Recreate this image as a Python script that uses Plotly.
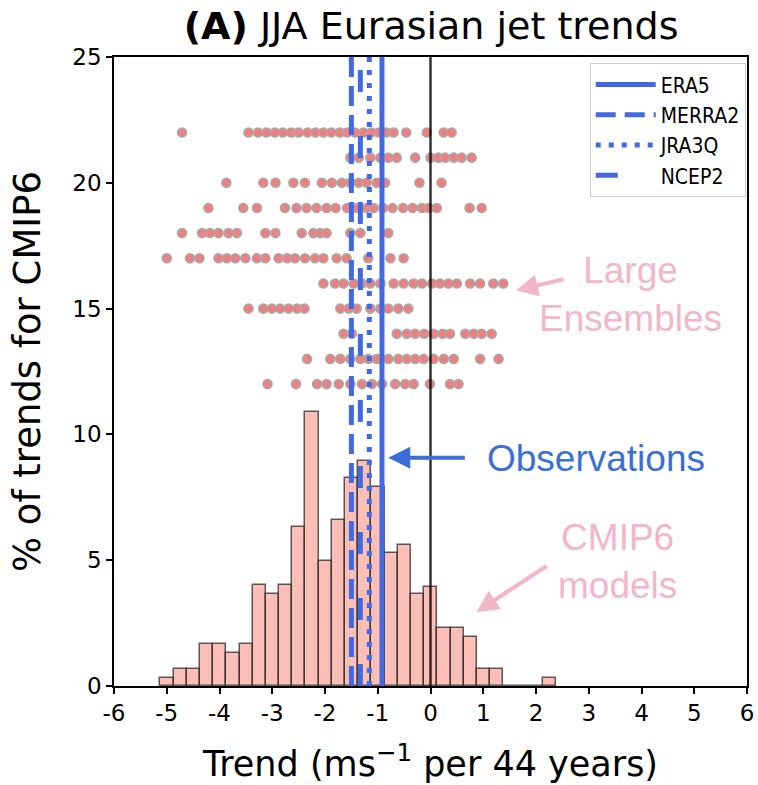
import numpy as np
import plotly.graph_objects as go

# ---------------- data ----------------
# CMIP6 histogram (percent of trends per bin), 30 bins from -5.12 to 2.38
bin_lo, bin_hi = -5.12, 2.38
hist_pct = [0.33, 0.66, 0.66, 1.66, 1.66, 1.33, 1.66, 4.0, 3.65, 4.0,
            6.3, 10.9, 4.95, 6.6, 8.25, 8.95, 7.9, 5.3, 5.6, 3.65,
            3.95, 2.3, 2.3, 1.95, 0.66, 0.66, 0.0, 0.0, 0.0, 0.33]

# Large-ensemble member trends, one row per ensemble (row value = y position)
le_rows = [22, 21, 20, 19, 18, 17, 16, 15, 14, 13, 12]
le_trends = [
    [-4.71, -3.45, -3.27, -3.11, -2.95, -2.80, -2.64, -2.50, -2.33, -2.18, -2.03, -1.88,
     -1.72, -1.58, -1.43, -1.27, -1.12, -0.98, -0.84, -0.70, -0.46, -0.07, 0.25, 0.40],
    [-1.52, -1.36, -1.14, -0.95, -0.80, -0.64, -0.29, 0.00, 0.15, 0.28, 0.44, 0.59, 0.78],
    [-3.87, -3.17, -2.94, -2.60, -2.38, -2.06, -1.87, -1.68, -1.52, -1.36, -1.21, -1.02,
     -0.86, -0.21, 0.21],
    [-4.21, -3.55, -3.29, -2.76, -2.54, -2.35, -2.16, -1.97, -1.80, -1.58, -1.40, -1.21,
     -1.08, -0.90, -0.72, -0.52, -0.34, -0.16, -0.03, 0.12, 0.74, 0.97],
    [-4.71, -4.33, -4.18, -4.02, -3.83, -3.67, -3.13, -2.94, -2.44, -2.22, -2.09, -1.97,
     -1.52, -1.33, -0.80],
    [-5.00, -4.56, -4.38, -4.02, -3.86, -3.70, -3.51, -3.29, -3.13, -2.88, -2.72, -2.57,
     -2.38, -2.19, -2.03, -1.78, -1.59, -1.18, -0.76, -0.51],
    [-2.03, -1.81, -1.65, -1.46, -1.30, -1.14, -0.95, -0.70, -0.51, -0.32, -0.16, 0.03,
     0.18, 0.34, 0.50, 0.75, 0.94, 1.19, 1.38],
    [-3.45, -3.17, -3.01, -2.85, -2.69, -2.53, -2.39, -1.71, -1.55, -1.40, -1.14, -0.95,
     -0.80, -0.61, -0.42],
    [-1.65, -1.49, -0.64, -0.45, -0.29, -0.12, 0.06, 0.23, 0.37, 0.66, 0.82, 0.97, 1.16],
    [-2.34, -1.90, -1.71, -1.52, -1.33, -1.18, -1.02, -0.80, -0.61, -0.45, -0.29, -0.13,
     0.06, 0.25, 0.44, 0.94, 1.29],
    [-3.09, -2.55, -2.15, -1.97, -1.74, -1.52, -1.30, -1.11, -0.92, -0.67, -0.48, -0.32,
     -0.01, 0.37, 0.53],
]

# Observed reanalysis trends
obs_names = ["ERA5", "MERRA2", "JRA3Q", "NCEP2"]
obs_trends = [-0.92, -1.50, -1.16, -1.33]

x_ticks = [-6, -5, -4, -3, -2, -1, 0, 1, 2, 3, 4, 5, 6]
y_ticks = [0, 5, 10, 15, 20, 25]

# ---------------- styles ----------------
FONT = "DejaVu Sans"
ANNOT_FONT = "Liberation Sans, Arial, sans-serif"
BLUE = "#4169E1"
TEXT_BLUE = "#3A6FD8"
PINK = "#F2B6C6"
obs_dash = ["solid", "20px,9px", "5px,8px", "22px,44px"]

edges = np.linspace(bin_lo, bin_hi, len(hist_pct) + 1)
centers = (edges[:-1] + edges[1:]) / 2
widths = np.diff(edges)

fig = go.Figure()

fig.add_trace(go.Bar(
    x=centers, y=hist_pct, width=widths,
    marker=dict(color="rgba(250,128,114,0.5)",
                line=dict(color="rgba(40,40,40,0.75)", width=1.5)),
    showlegend=False, hoverinfo="skip"))

for row, vals in zip(le_rows, le_trends):
    fig.add_trace(go.Scatter(
        x=vals, y=[row] * len(vals), mode="markers",
        marker=dict(size=9, color="#F08080", line=dict(color="#A8A8A8", width=1.6)),
        showlegend=False, hoverinfo="skip"))

fig.add_trace(go.Scatter(x=[0, 0], y=[0, 25], mode="lines",
                         line=dict(color="rgba(0,0,0,0.8)", width=2.5),
                         showlegend=False, hoverinfo="skip"))

for name, val, dash in zip(obs_names, obs_trends, obs_dash):
    fig.add_trace(go.Scatter(x=[val, val], y=[0, 25], mode="lines", name=name,
                             legendgroup=name,
                             line=dict(color=BLUE, width=5, dash=dash)))

annots = [
    dict(x=3.79, y=15.58, text="Large<br>Ensembles", font=dict(color=PINK, size=37, family=ANNOT_FONT),
         showarrow=False, xref="x", yref="y"),
    dict(x=3.14, y=9.03, text="Observations", font=dict(color=TEXT_BLUE, size=37, family=ANNOT_FONT),
         showarrow=False, xref="x", yref="y"),
    dict(x=3.54, y=4.95, text="CMIP6<br>models", font=dict(color=PINK, size=37, family=ANNOT_FONT),
         showarrow=False, xref="x", yref="y"),
    # arrows
    dict(x=1.62, y=15.72, ax=2.55, ay=16.18, xref="x", yref="y", axref="x", ayref="y",
         text="", showarrow=True, arrowhead=2, arrowsize=1.1, arrowwidth=4, arrowcolor=PINK),
    dict(x=-0.80, y=9.07, ax=0.68, ay=9.07, xref="x", yref="y", axref="x", ayref="y",
         text="", showarrow=True, arrowhead=2, arrowsize=1.1, arrowwidth=4, arrowcolor=TEXT_BLUE),
    dict(x=0.87, y=2.94, ax=2.23, ay=4.81, xref="x", yref="y", axref="x", ayref="y",
         text="", showarrow=True, arrowhead=2, arrowsize=1.1, arrowwidth=4, arrowcolor=PINK),
]

fig.update_layout(
    width=758, height=785,
    margin=dict(l=114, r=11, t=57, b=99),
    paper_bgcolor="white", plot_bgcolor="white",
    font=dict(family=FONT, color="black"),
    title=dict(text="<b>(A)</b> JJA Eurasian jet trends", x=0.5687, xanchor="center",
               y=0.984, yanchor="top", font=dict(size=38, family=FONT)),
    xaxis=dict(range=[-6, 6], tickvals=x_ticks, ticktext=[str(t) for t in x_ticks],
               showline=True, linecolor="black", linewidth=1.5, mirror=True,
               ticks="outside", ticklen=6, tickwidth=1.5, tickcolor="black",
               showgrid=False, zeroline=False, tickfont=dict(size=23), automargin=False,
               title=dict(text="Trend (ms<sup>−1</sup> per 44 years)", font=dict(size=35),
                          standoff=26)),
    yaxis=dict(range=[0, 25], tickvals=y_ticks,
               showline=True, linecolor="black", linewidth=1.5, mirror=True,
               ticks="outside", ticklen=6, tickwidth=1.5, tickcolor="black",
               showgrid=False, zeroline=False, tickfont=dict(size=23), automargin=False,
               title=dict(text="% of trends for CMIP6", font=dict(size=37), standoff=20)),
    legend=dict(x=0.998, y=0.99, xanchor="right", yanchor="top",
                bgcolor="white", bordercolor="#CCCCCC", borderwidth=1,
                font=dict(size=21, family="Liberation Sans Narrow, DejaVu Sans Condensed, sans-serif"),
                tracegroupgap=0, itemwidth=60),
    annotations=annots,
    bargap=0,
)

fig.write_html("out.html")
